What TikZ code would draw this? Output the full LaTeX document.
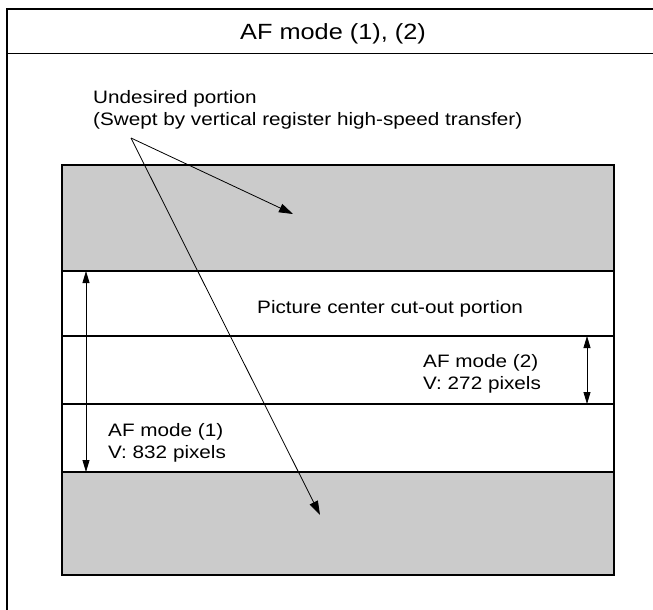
\documentclass[tikz,border=0pt]{standalone}
\usepackage{fontspec}
\setmainfont[FakeStretch=1.15]{Liberation Sans}
\usetikzlibrary{arrows.meta}
\definecolor{bandgray}{HTML}{CBCBCB}
\begin{document}
\begin{tikzpicture}[x=1pt,y=-1pt,
  lbl/.style={anchor=base west, inner sep=0pt, font=\fontsize{18}{22}\selectfont},
  ttl/.style={anchor=base, inner sep=0pt, font=\fontsize{22}{26}\selectfont},
  ptr/.style={line width=0.8pt, -{Triangle[length=14pt,width=9pt]}},
  dimarrow/.style={line width=0.8pt, {Triangle[length=12pt,width=7pt]}-{Triangle[length=12pt,width=7pt]}},
  band/.style={fill=bandgray},
  thinline/.style={line width=1.1pt},
  frameline/.style={line width=2.5pt}]
\useasboundingbox (0,0) rectangle (653,610);
\fill[white] (0,0) rectangle (653,610);
% outer frame
\draw[frameline] (7,610) -- (7,9) -- (653,9);
\draw[line width=1.2pt] (7,53.5) -- (653,53.5);
\node[ttl] (title) at (333,40) {AF mode (1), (2)};
% bands
\fill[band] (62,165) rectangle (614,271);
\fill[band] (62,472) rectangle (614,575);
\draw[thinline] (62,271) -- (614,271);
\draw[thinline] (62,336) -- (614,336);
\draw[thinline] (62,404) -- (614,404);
\draw[thinline] (62,472) -- (614,472);
\draw[line width=2pt] (62,165) rectangle (614,575);
% labels
\node[lbl] (u1) at (93,103) {Undesired portion};
\node[lbl] (u2) at (93,125) {(Swept by vertical register high-speed transfer)};
\node[lbl] (pc) at (257,313) {Picture center cut-out portion};
\node[lbl] (m2a) at (423,367) {AF mode (2)};
\node[lbl] (m2b) at (423,389) {V: 272 pixels};
\node[lbl] (m1a) at (108,436) {AF mode (1)};
\node[lbl] (m1b) at (108,458) {V: 832 pixels};
% pointer arrows
\coordinate (src) at (131,138);
\coordinate (tipA) at (293,214);
\coordinate (tipB) at (320,515);
\draw[ptr] (src) -- (tipA);
\draw[ptr] (src) -- (tipB);
% dimension arrows
\coordinate (d1t) at (86,271);
\coordinate (d1b) at (86,472);
\coordinate (d2t) at (587,336);
\coordinate (d2b) at (587,404);
\draw[dimarrow] (d1t) -- (d1b);
\draw[dimarrow] (d2t) -- (d2b);
\end{tikzpicture}
\end{document}
